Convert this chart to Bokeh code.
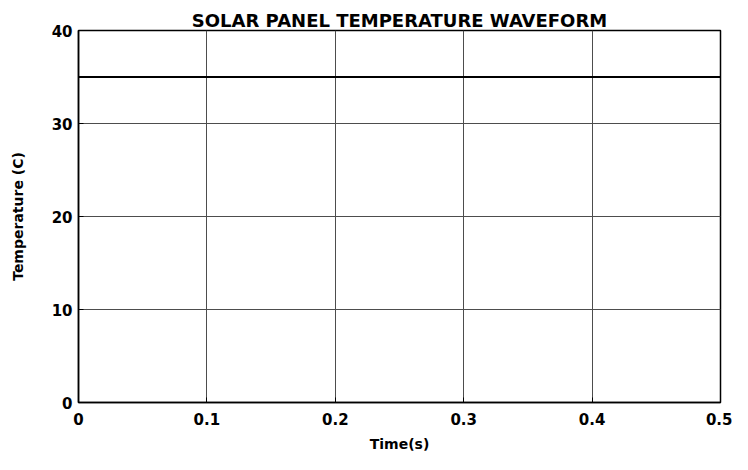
from bokeh.plotting import figure
from bokeh.models import FixedTicker, Range1d
from bokeh.embed import file_html
from bokeh.resources import INLINE

# Data
time_s = [0.0, 0.5]
temperature_c = [35.0, 35.0]

x_ticks = [0, 0.1, 0.2, 0.3, 0.4, 0.5]
x_tick_labels = ["0", "0.1", "0.2", "0.3", "0.4", "0.5"]
y_ticks = [0, 10, 20, 30, 40]
y_tick_labels = ["0", "10", "20", "30", "40"]

FONT = "DejaVu Sans"

p = figure(width=732, height=454, output_backend="svg", toolbar_location=None,
           x_range=Range1d(0, 0.5), y_range=Range1d(0, 40),
           min_border_left=78, min_border_right=12, min_border_top=30, min_border_bottom=48,
           title="SOLAR PANEL TEMPERATURE WAVEFORM")

p.line(time_s, temperature_c, line_color="black", line_width=2.2)

p.title.align = "center"
p.title.text_font = FONT
p.title.text_font_size = "18px"
p.title.text_font_style = "bold"
p.title.text_color = "black"
p.title.standoff = 0
p.title.offset = 0

p.outline_line_color = "black"
p.outline_line_width = 1.5
p.outline_line_alpha = 1

p.xaxis.ticker = FixedTicker(ticks=x_ticks)
p.yaxis.ticker = FixedTicker(ticks=y_ticks)
p.xaxis.major_label_overrides = {t: l for t, l in zip(x_ticks, x_tick_labels)}
p.yaxis.major_label_overrides = {t: l for t, l in zip(y_ticks, y_tick_labels)}

p.xaxis.axis_label = "Time(s)"
p.yaxis.axis_label = "Temperature (C)"

for ax in (p.xaxis, p.yaxis):
    ax.axis_line_color = "black"
    ax.axis_line_width = 1.5
    ax.major_tick_in = 5
    ax.major_tick_out = 0
    ax.minor_tick_line_color = None
    ax.major_tick_line_color = "black"
    ax.major_label_text_font = FONT
    ax.major_label_text_font_style = "bold"
    ax.major_label_text_font_size = "15px"
    ax.major_label_text_color = "black"
    ax.axis_label_text_font = FONT
    ax.axis_label_text_font_style = "bold"
    ax.axis_label_text_font_size = "14px"
    ax.axis_label_text_color = "black"

p.xaxis.major_label_standoff = 10
p.xaxis.axis_label_standoff = 8
p.yaxis.major_label_standoff = 6
p.yaxis.axis_label_standoff = 23

p.xgrid.grid_line_color = "#4d4d4d"
p.ygrid.grid_line_color = "#4d4d4d"
p.xgrid.grid_line_width = 1
p.ygrid.grid_line_width = 1

p.background_fill_color = "white"
p.border_fill_color = "white"

open("out.html", "w").write(file_html(p, INLINE))
